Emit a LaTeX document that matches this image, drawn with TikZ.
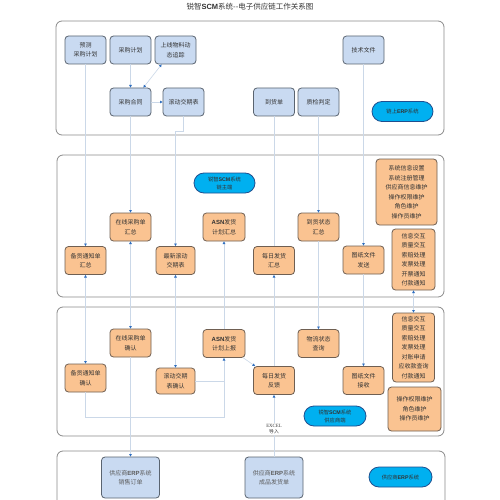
\documentclass[tikz,border=0pt]{standalone}
\usepackage{fontspec}
\setmainfont{Liberation Serif}
\newfontfamily\cjk{Noto Sans CJK SC}
\newfontfamily\latb{Liberation Sans}
\usetikzlibrary{arrows.meta,calc}
\definecolor{bluefill}{HTML}{C9DAF1}
\definecolor{blueedge}{HTML}{5A6470}
\definecolor{orfill}{HTML}{FAC391}
\definecolor{oredge}{HTML}{6F5F52}
\definecolor{pillfill}{HTML}{00B0F0}
\definecolor{pilledge}{HTML}{1F4F8F}
\definecolor{connc}{HTML}{CBD8E8}
\definecolor{tipc}{HTML}{2F6FC0}
\definecolor{panelc}{HTML}{8A8A8A}
\definecolor{txtc}{HTML}{333333}
\newcommand\SCMt{{\latb\bfseries SCM}}
\newcommand\ASNt{{\latb\bfseries ASN}}
\newcommand\ERPt{{\latb\bfseries ERP}}
\tikzset{
  panel/.style={draw=panelc,line width=0.8pt,rounded corners=6pt,fill=white},
  bbox/.style={rectangle,rounded corners=3.5pt,draw=blueedge,fill=bluefill,line width=0.8pt,
    minimum width=41pt,minimum height=28pt,align=center,inner sep=0pt,text=txtc,
    font=\cjk\fontsize{6}{9.5}\selectfont},
  obox/.style={bbox,draw=oredge,fill=orfill},
  pill/.style={rectangle,rounded corners=10pt,draw=pilledge,fill=pillfill,line width=0.8pt,
    minimum width=61pt,minimum height=20pt,align=center,inner sep=0pt,text=txtc,
    font=\cjk\fontsize{5.3}{8}\selectfont},
  conn/.style={draw=connc,line width=0.6pt},
  arr/.style={-{Triangle[length=2.6pt,width=2.6pt,color=tipc]}},
  arrb/.style={{Triangle[length=2.6pt,width=2.6pt,color=tipc]}-{Triangle[length=2.6pt,width=2.6pt,color=tipc]}},
}
\begin{document}
\begin{tikzpicture}[x=1pt,y=-1pt]
\useasboundingbox (0,0) rectangle (500,500);
\clip (0,0) rectangle (500,500);
% title
\node[font=\cjk\fontsize{7.5}{9}\selectfont,text=txtc] (title) at (250,6.5) {锐智\SCMt 系统--电子供应链工作关系图};
% panels
\draw[panel] (56,21) rectangle (444,135);
\draw[panel] (57,155) rectangle (444,297);
\draw[panel] (57,307) rectangle (444,436);
\draw[panel] (57,451) rectangle (445,520);
% section 1
\node[bbox] (yc) at (85.5,50) {预测\\采购计划};
\node[bbox] (cgjh) at (130.5,50) {采购计划};
\node[bbox] (sxwl) at (175.5,50) {上线物料动\\态追踪};
\node[bbox] (jswj) at (363.5,50) {技术文件};
\node[bbox] (cght) at (130.5,102) {采购合同};
\node[bbox] (gdjq) at (183.5,102) {滚动交期表};
\node[bbox] (dhd) at (274,102) {到货单};
\node[bbox] (zjpd) at (318.5,102) {质检判定};
\node[pill] (erp1) at (402.5,111.5) {链上\ERPt 系统};
% section 2
\node[pill] (scm1) at (224.5,183) {锐智\SCMt 系统\\链主端};
\node[obox] (zxhz) at (130.5,227) {在线采购单\\汇总};
\node[obox] (bhhz) at (85.5,260.5) {备货通知单\\汇总};
\node[obox,minimum width=39pt] (zxgd) at (175.5,260.5) {最新滚动\\交期表};
\node[obox,minimum width=42pt] (asnhz) at (224,227) {\ASNt 发货\\计划汇总};
\node[obox] (mrhz) at (274,260.5) {每日发货\\汇总};
\node[obox] (dhzt) at (318.5,227) {到货状态\\汇总};
\node[obox] (tzfs) at (363.5,260) {图纸文件\\发送};
\node[obox,minimum width=61pt,minimum height=66pt] (xtxx) at (406.5,192) {系统信息设置\\系统注册管理\\供应商信息维护\\操作权限维护\\角色维护\\操作员维护};
\node[obox,minimum width=43pt,minimum height=61pt] (xxjh1) at (413.5,259.5) {信息交互\\质量交互\\索赔处理\\发票处理\\开票通知\\付款通知};
% section 3
\node[obox] (zxqr) at (130.5,343) {在线采购单\\确认};
\node[obox] (bhqr) at (85.5,378) {备货通知单\\确认};
\node[obox,minimum width=39pt,minimum height=26pt] (gdqr) at (175.5,381) {滚动交期\\表确认};
\node[obox,minimum width=42pt] (asnsb) at (224,343.5) {\ASNt 发货\\计划上报};
\node[obox] (mrfk) at (274,380.5) {每日发货\\反馈};
\node[obox] (wlzt) at (318.5,343.5) {物流状态\\查询};
\node[obox] (tzjs) at (363.5,380.5) {图纸文件\\接收};
\node[pill,minimum width=62pt] (scm2) at (335,416) {锐智\SCMt 系统\\供应商端};
\node[obox,minimum width=42pt,minimum height=69pt] (xxjh2) at (413.5,347.5) {信息交互\\质量交互\\索赔处理\\发票处理\\对账申请\\应收款查询\\付款通知};
\node[obox,minimum width=53pt,minimum height=44pt] (czqx) at (414.5,409) {操作权限维护\\角色维护\\操作员维护};
% section 4
\node[bbox,minimum width=58pt,minimum height=41pt,text=txtc!80] (xsdd) at (130.5,477.5) {供应商\ERPt 系统\\销售订单};
\node[bbox,minimum width=58pt,minimum height=41pt,text=txtc!80] (cpfh) at (274,477.5) {供应商\ERPt 系统\\成品发货单};
\node[pill,minimum width=63pt] (erp2) at (400.5,477) {供应商\ERPt 系统};
% connectors
\draw[conn,arr] (cgjh) -- (cght);
\draw[conn,arrb] ([xshift=-8pt]cght.north east) -- ([xshift=7pt]sxwl.south west);
\draw[conn,arr] (cght) -- (gdjq);
\draw[conn,arr] (yc) -- (bhhz);
\draw[conn,arr] (cght) -- (zxhz);
\draw[conn,arr] (gdjq.south) -- ++(0,15) -| (zxgd.north);
\draw[conn] (dhd) -- (mrhz);
\draw[conn,arr] (zjpd) -- (dhzt);
\draw[conn,arr] (jswj) -- (tzfs);
\draw[conn,arrb] (bhhz) -- (bhqr);
\draw[conn,arrb] (zxhz) -- (zxqr);
\draw[conn,arr] (zxqr) -- (xsdd);
\draw[conn,arrb] (zxgd) -- (gdqr);
\draw[conn,arr] (asnsb) -- (asnhz);
\draw[conn,arr] (mrfk) -- (mrhz);
\draw[conn,arr] (dhzt) -- (wlzt);
\draw[conn,arr] (tzfs) -- (tzjs);
\draw[conn,arrb] (xxjh1.south) -- (xxjh1.south |- xxjh2.north);
\draw[conn,arr] (bhqr.south) -- ++(0,25) -| (asnsb.south);
\draw[conn] (gdqr.east) -- (gdqr.east -| asnsb.south);
\draw[conn,arr] ([xshift=-2pt]asnsb.south east) -- ([xshift=2pt]mrfk.north west);
\draw[conn,arr] (cpfh) -- node[pos=0.45,fill=white,inner sep=1pt,text=txtc,align=center,font=\fontsize{4.8}{6}\selectfont] (excel) {EXCEL\\{\cjk 导入}} (mrfk);
\end{tikzpicture}
\end{document}
